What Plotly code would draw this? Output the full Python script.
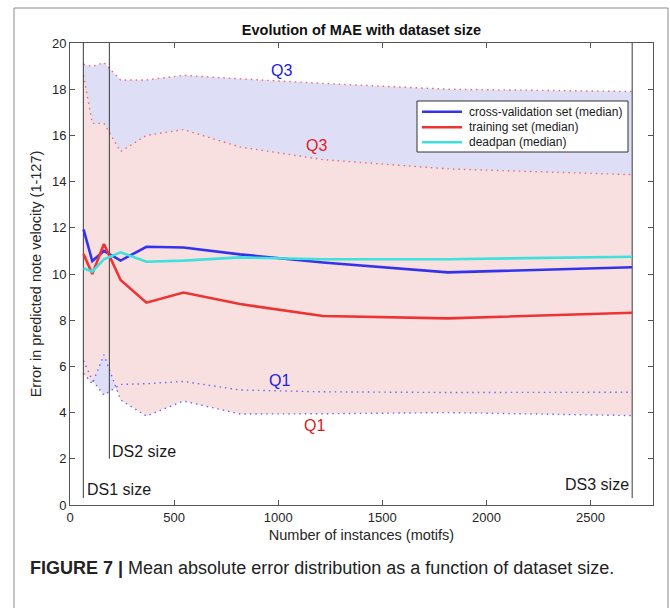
import plotly.graph_objects as go

# ---- data ----
x = [65, 107, 163, 243, 367, 545, 816, 1215, 1815, 2700]
cv_median = [11.93, 10.56, 11.0, 10.58, 11.18, 11.15, 10.85, 10.5, 10.07, 10.29]
tr_median = [10.87, 10.0, 11.3, 9.74, 8.76, 9.2, 8.7, 8.18, 8.08, 8.32]
dp_median = [10.25, 10.1, 10.64, 10.94, 10.53, 10.58, 10.72, 10.64, 10.64, 10.75]
cv_q3 = [19.08, 18.98, 19.15, 18.4, 18.4, 18.6, 18.45, 18.25, 18.0, 17.9]
tr_q3 = [18.6, 16.52, 16.52, 15.3, 16.0, 16.25, 15.5, 14.95, 14.55, 14.3]
cv_q1 = [6.25, 5.4, 4.76, 5.22, 5.25, 5.35, 4.98, 4.9, 4.87, 4.88]
tr_q1 = [5.7, 5.25, 6.5, 4.55, 3.85, 4.5, 3.94, 3.95, 4.0, 3.87]

series_names = ["cross-validation set (median)", "training set (median)", "deadpan (median)"]
series_colors = ["#3333ee", "#ee3333", "#40e0dc"]

ds_names = ["DS1 size", "DS2 size", "DS3 size"]
ds_x = [64, 189, 2700]
ds_ybot = [0.3, 2.0, 0.3]
ds_ytop = [20, 20, 20]

q_labels = [("Q3", 1016, 18.83, "#2020e0"), ("Q3", 1184, 15.58, "#e02020"),
            ("Q1", 1008, 5.37, "#2020e0"), ("Q1", 1176, 3.46, "#e02020")]

xticks = [0, 500, 1000, 1500, 2000, 2500]
yticks = [0, 2, 4, 6, 8, 10, 12, 14, 16, 18, 20]

FONT = "Liberation Sans, Arial, Helvetica, sans-serif"
LAV = "rgb(222,222,246)"
PINK = "rgb(249,224,224)"

# pixel -> paper helpers (plot area: x 70..653, y 43..505)
def px(v):
    return (v - 70) / 583.0

def py(v):
    return (505 - v) / 462.0

fig = go.Figure()

# bands
fig.add_trace(go.Scatter(x=x + x[::-1], y=cv_q3 + cv_q1[::-1], fill="toself",
                         fillcolor=LAV, line=dict(width=0), mode="lines",
                         showlegend=False, hoverinfo="skip"))
fig.add_trace(go.Scatter(x=x + x[::-1], y=tr_q3 + tr_q1[::-1], fill="toself",
                         fillcolor=PINK, line=dict(width=0), mode="lines",
                         showlegend=False, hoverinfo="skip"))

# dotted quartile edges
for ys, col in [(cv_q3, "#f06a6a"), (tr_q3, "#f06a6a"), (cv_q1, "#6a6af0"), (tr_q1, "#6a6af0")]:
    fig.add_trace(go.Scatter(x=x, y=ys, mode="lines",
                             line=dict(color=col, width=1.4, dash="1.5px,4px"),
                             showlegend=False, hoverinfo="skip"))

# DS vertical lines
for xv, yb, yt in zip(ds_x, ds_ybot, ds_ytop):
    fig.add_trace(go.Scatter(x=[xv, xv], y=[yb, yt], mode="lines",
                             line=dict(color="#3a3a3a", width=1),
                             showlegend=False, hoverinfo="skip"))

# medians
for ys, nm, col in zip([cv_median, tr_median, dp_median], series_names, series_colors):
    fig.add_trace(go.Scatter(x=x, y=ys, mode="lines", name=nm,
                             line=dict(color=col, width=2.6), showlegend=False))

ann = []
ann.append(dict(x=ds_x[0], y=0.68, xref="x", yref="y", text=ds_names[0], showarrow=False,
                xanchor="left", yanchor="middle", xshift=2, font=dict(size=16, color="#1a1a1a")))
ann.append(dict(x=ds_x[1], y=2.31, xref="x", yref="y", text=ds_names[1], showarrow=False,
                xanchor="left", yanchor="middle", xshift=1, font=dict(size=16, color="#1a1a1a")))
ann.append(dict(x=ds_x[2], y=0.9, xref="x", yref="y", text=ds_names[2], showarrow=False,
                xanchor="right", yanchor="middle", xshift=-1, font=dict(size=16, color="#1a1a1a")))
for t, xv, yv, c in q_labels:
    ann.append(dict(x=xv, y=yv, xref="x", yref="y", text=t, showarrow=False,
                    xanchor="center", yanchor="middle", font=dict(size=16, color=c)))

# legend (box, samples, labels)
shapes = []
shapes.append(dict(type="rect", xref="paper", yref="paper",
                   x0=px(417), x1=px(628), y0=py(152), y1=py(101),
                   line=dict(color="#333333", width=1), fillcolor="white", layer="above"))
leg_y = [111.7, 127.3, 142.3]
for yy, nm, col in zip(leg_y, series_names, series_colors):
    shapes.append(dict(type="line", xref="paper", yref="paper",
                       x0=px(422), x1=px(462), y0=py(yy), y1=py(yy),
                       line=dict(color=col, width=2.6), layer="above"))
    ann.append(dict(x=px(467), y=py(yy), xref="paper", yref="paper", text=nm,
                    showarrow=False, xanchor="left", yanchor="middle",
                    font=dict(size=12, color="#1a1a1a")))

# caption
ann.append(dict(x=px(28), y=py(568), xref="paper", yref="paper",
                text="<b>FIGURE 7 |</b> Mean absolute error distribution as a function of dataset size.",
                showarrow=False, xanchor="left", yanchor="middle",
                font=dict(size=18, color="#222222", family=FONT)))

# outer frame
shapes.append(dict(type="rect", xref="paper", yref="paper",
                   x0=px(14), x1=px(668), y0=py(640), y1=py(8),
                   line=dict(color="#8a8a8a", width=1), fillcolor="rgba(0,0,0,0)", layer="below"))

axis_common = dict(showline=True, linecolor="#555555", linewidth=1, mirror="ticks",
                   ticks="inside", ticklen=5, tickcolor="#555555", showgrid=False,
                   zeroline=False, tickfont=dict(size=13, color="#262626"))

fig.update_layout(
    width=670, height=608,
    margin=dict(l=70, r=17, t=43, b=103),
    plot_bgcolor="white", paper_bgcolor="white",
    showlegend=False,
    font=dict(family=FONT, size=13, color="#262626"),
    title=dict(text="<b>Evolution of MAE with dataset size</b>", x=0.5, xref="paper",
               y=1 - 30 / 608, yref="container", xanchor="center", yanchor="middle",
               font=dict(size=14.5, color="#111111")),
    xaxis=dict(range=[0, 2800], tickvals=xticks,
               title=dict(text="Number of instances (motifs)", font=dict(size=14.5), standoff=6),
               **axis_common),
    yaxis=dict(range=[0, 20], tickvals=yticks,
               title=dict(text="Error in predicted note velocity (1-127)", font=dict(size=14.5), standoff=6),
               **axis_common),
    annotations=ann,
    shapes=shapes,
)

fig.write_html("out.html")
